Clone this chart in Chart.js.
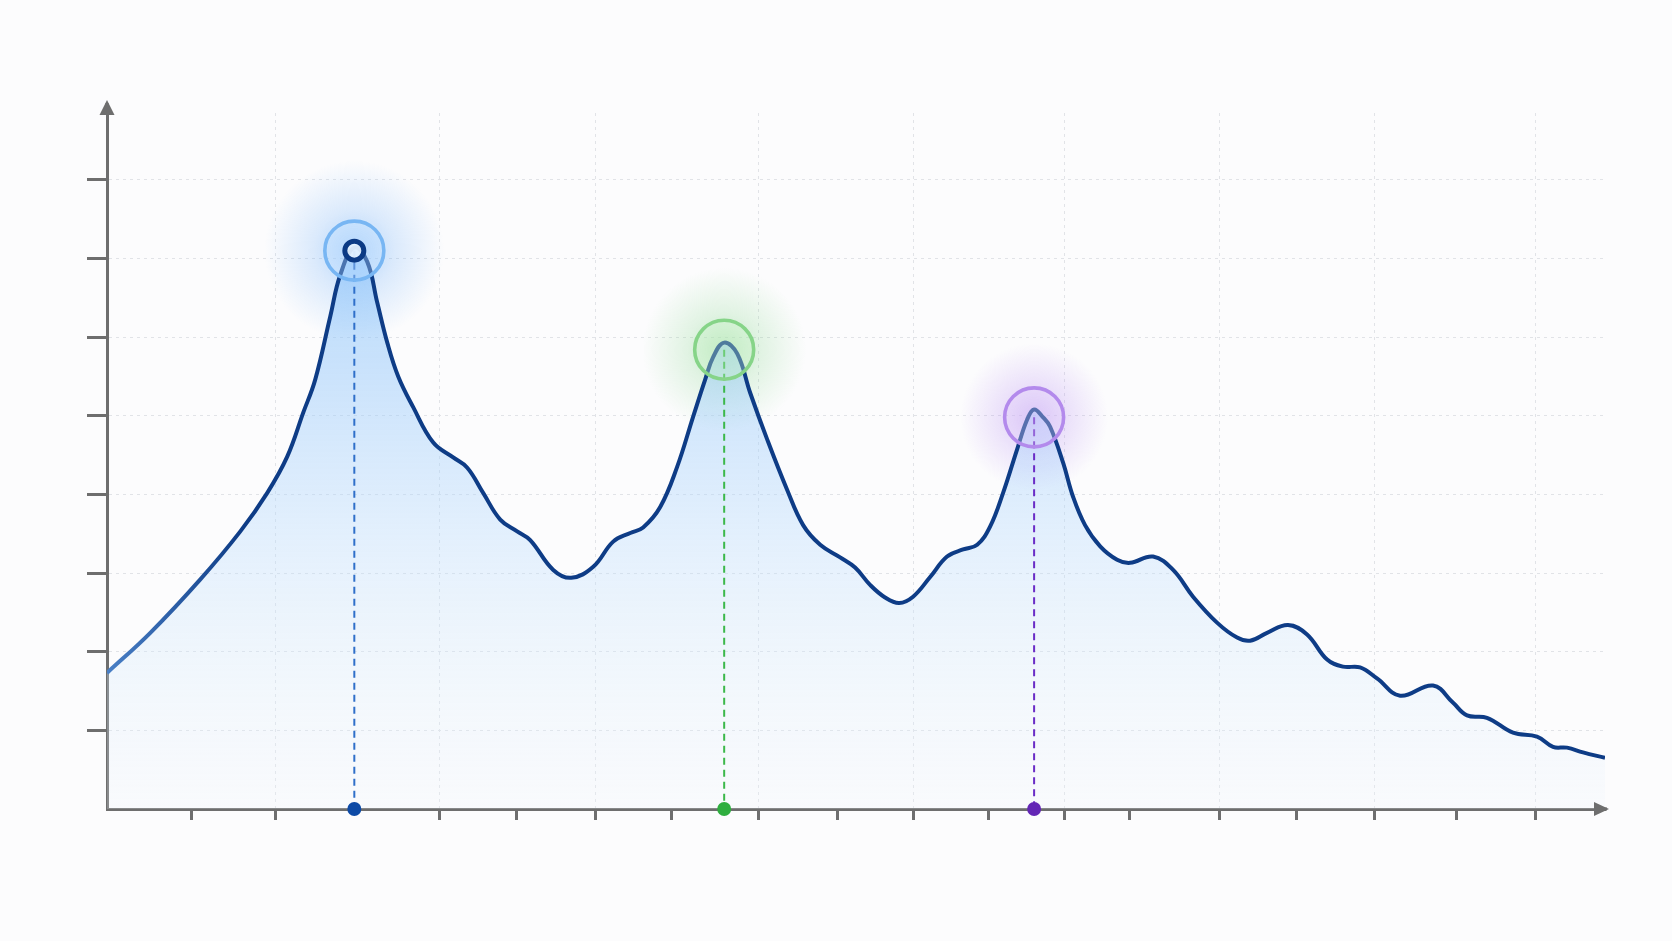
<!DOCTYPE html>
<html>
<head>
  <title>Peak curve</title>
  <script src="https://cdn.jsdelivr.net/npm/chart.js"></script>
  <style>
    body { margin: 0; background: #fcfcfd; }
    #wrap { position: relative; width: 1672px; height: 941px; }
  </style>
</head>
<body>
  <div id="wrap"><canvas id="chart"></canvas></div>
  <script>
    // curve (x runs 0..100, y in axis units)
    const curveX = [0, 2.89, 6.23, 8.90, 10.70, 12.03, 13.10, 13.90, 14.90, 15.57, 16.51, 17.37, 18.04, 18.71, 19.44,
      20.44, 21.78, 23.11, 24.05, 25.11, 26.25, 27.38, 28.25, 29.79, 30.99, 32.46, 33.79, 34.93, 35.79, 36.93,
      38.06, 39.13, 39.93, 40.47, 41.20, 42.07, 42.94, 44.07, 45.40, 46.47, 47.61, 48.94, 49.94, 50.94, 51.94,
      52.88, 53.81, 54.95, 56.08, 57.15, 58.09, 58.95, 59.82, 60.75, 61.42, 61.89, 62.49, 62.96, 63.83, 64.49,
      65.29, 66.30, 67.43, 68.30, 69.83, 71.17, 72.50, 74.10, 75.44, 76.31, 77.44, 78.84, 80.11, 81.45, 82.51,
      83.65, 84.78, 86.32, 88.52, 89.86, 90.79, 92.12, 93.86, 95.46, 96.53, 97.46, 98.53, 100];
    const curveY = [1.73, 2.24, 2.92, 3.53, 4.02, 4.48, 5.04, 5.46, 6.26, 6.79, 7.14, 6.96, 6.44, 5.93, 5.50,
      5.11, 4.66, 4.47, 4.34, 4.02, 3.68, 3.53, 3.42, 3.04, 2.94, 3.08, 3.40, 3.51, 3.58, 3.84,
      4.35, 4.99, 5.46, 5.75, 5.93, 5.79, 5.29, 4.70, 4.06, 3.61, 3.36, 3.20, 3.07, 2.85, 2.69,
      2.62, 2.70, 2.95, 3.21, 3.30, 3.36, 3.59, 4.02, 4.57, 4.95, 5.08, 4.98, 4.86, 4.40, 3.97,
      3.61, 3.34, 3.17, 3.13, 3.21, 3.04, 2.70, 2.37, 2.18, 2.14, 2.24, 2.34, 2.22, 1.90, 1.81,
      1.80, 1.66, 1.44, 1.57, 1.35, 1.19, 1.16, 0.97, 0.92, 0.79, 0.78, 0.72, 0.65];

    const xTicks = [5.63, 11.27, 22.18, 27.32, 32.59, 37.66, 43.5, 48.74, 53.81, 58.82, 63.89, 68.23,
      74.24, 79.38, 84.59, 90.06, 95.33];
    const xGridTicks = [11.27, 22.18, 32.59, 43.5, 53.81, 63.89, 74.24, 84.59, 95.33];
    const yTicks = [1, 2, 3, 4, 5, 6, 7, 8];

    // highlighted peaks: position of the marker
    const peakX = [16.51, 41.20, 61.89];
    const peakY = [7.10, 5.84, 4.98];

    const ringColor = ['#78b6f3', '#86d488', '#b38aec'];
    const ringFill = ['rgba(185,222,255,0.35)', 'rgba(200,240,200,0.35)', 'rgba(225,208,250,0.35)'];
    const dropColor = ['#2f6fc9', '#3cb84a', '#6a2cc6'];
    const dotColor = ['#0d4aa6', '#2fae3f', '#6326b5'];
    const glowColor = ['90,165,250', '120,210,125', '170,120,240'];
    const glowRadius = [90, 82, 74];

    const curve = curveX.map((x, i) => ({ x: x, y: curveY[i] }));

    const datasets = [];
    // axis dots
    datasets.push({
      data: peakX.map(x => ({ x: x, y: 0 })),
      pointRadius: 7, pointBackgroundColor: dotColor, pointBorderWidth: 0,
      showLine: false, clip: false, order: 0
    });
    // inner ring on the first peak
    datasets.push({
      data: [{ x: peakX[0], y: peakY[0] }],
      pointRadius: 9.5, pointBorderWidth: 5, pointBorderColor: '#0b3a85',
      pointBackgroundColor: 'rgba(228,242,255,0.9)',
      showLine: false, clip: false, order: 0
    });
    // outer rings
    datasets.push({
      data: peakX.map((x, i) => ({ x: x, y: peakY[i] })),
      pointRadius: 29.5, pointBorderWidth: 3.6, pointBorderColor: ringColor,
      pointBackgroundColor: ringFill,
      showLine: false, clip: false, order: 1
    });
    // dashed drop lines
    peakX.forEach((x, i) => {
      datasets.push({
        data: [{ x: x, y: peakY[i] }, { x: x, y: 0 }],
        borderColor: dropColor[i], borderWidth: 2, borderDash: [7, 5],
        pointRadius: 0, fill: false, order: 2
      });
    });
    // main curve
    datasets.push({
      data: curve,
      borderWidth: 4,
      tension: 0.4,
      pointRadius: 0,
      fill: 'origin',
      order: 3,
      borderColor: function (context) {
        const area = context.chart.chartArea;
        if (!area) return '#0f3f88';
        const g = context.chart.ctx.createLinearGradient(area.left, 0, area.right, 0);
        g.addColorStop(0, '#4a80c6');
        g.addColorStop(0.09, '#0e3c86');
        g.addColorStop(1, '#0e3c86');
        return g;
      },
      backgroundColor: function (context) {
        const area = context.chart.chartArea;
        if (!area) return 'rgba(180,215,250,0.4)';
        const g = context.chart.ctx.createLinearGradient(0, area.top, 0, area.bottom);
        g.addColorStop(0, 'rgba(120,185,250,0.7)');
        g.addColorStop(0.3, 'rgba(140,195,250,0.52)');
        g.addColorStop(0.65, 'rgba(190,222,252,0.35)');
        g.addColorStop(1, 'rgba(240,247,254,0.2)');
        return g;
      }
    });

    const glowPlugin = {
      id: 'glow',
      beforeDatasetsDraw(chart) {
        const ctx = chart.ctx;
        const xs = chart.scales.x, ys = chart.scales.y;
        ctx.save();
        peakX.forEach((x, i) => {
          const cx = xs.getPixelForValue(x), cy = ys.getPixelForValue(peakY[i]);
          const r = glowRadius[i];
          const g = ctx.createRadialGradient(cx, cy, 0, cx, cy, r);
          g.addColorStop(0, 'rgba(' + glowColor[i] + ',0.45)');
          g.addColorStop(0.45, 'rgba(' + glowColor[i] + ',0.2)');
          g.addColorStop(1, 'rgba(' + glowColor[i] + ',0)');
          ctx.fillStyle = g;
          ctx.beginPath();
          ctx.arc(cx, cy, r, 0, Math.PI * 2);
          ctx.fill();
        });
        ctx.restore();
      }
    };

    const arrowPlugin = {
      id: 'arrows',
      afterDraw(chart) {
        const ctx = chart.ctx;
        const a = chart.chartArea;
        ctx.save();
        ctx.strokeStyle = '#6e6e6e';
        ctx.fillStyle = '#6e6e6e';
        ctx.lineWidth = 3;
        ctx.beginPath();
        ctx.moveTo(a.left, a.top + 2);
        ctx.lineTo(a.left, a.top - 10);
        ctx.moveTo(a.right - 2, a.bottom);
        ctx.lineTo(a.right + 2, a.bottom);
        ctx.stroke();
        ctx.beginPath();
        ctx.moveTo(a.left, a.top - 13);
        ctx.lineTo(a.left - 7.5, a.top + 2);
        ctx.lineTo(a.left + 7.5, a.top + 2);
        ctx.closePath();
        ctx.fill();
        ctx.beginPath();
        ctx.moveTo(a.right + 4, a.bottom);
        ctx.lineTo(a.right - 11, a.bottom - 7);
        ctx.lineTo(a.right - 11, a.bottom + 7);
        ctx.closePath();
        ctx.fill();
        ctx.restore();
      }
    };

    new Chart(document.getElementById('chart'), {
      type: 'line',
      data: { datasets: datasets },
      plugins: [glowPlugin, arrowPlugin],
      options: {
        responsive: true,
        maintainAspectRatio: false,
        animation: false,
        layout: { padding: { left: 87, right: 67, top: 113, bottom: 121 } },
        plugins: { legend: { display: false }, tooltip: { enabled: false } },
        scales: {
          x: {
            type: 'linear', min: 0, max: 100,
            afterBuildTicks: s => { s.ticks = xTicks.map(v => ({ value: v })); },
            afterFit: s => { s.height = 11; },
            ticks: { display: false },
            grid: {
              color: c => (c.tick && xGridTicks.includes(c.tick.value)) ? '#e1e3e7' : 'rgba(0,0,0,0)',
              lineWidth: 1, tickLength: 11, tickWidth: 3, tickColor: '#6e6e6e'
            },
            border: { display: true, color: '#6e6e6e', width: 3, dash: [3, 4] }
          },
          y: {
            min: 0, max: 8.85,
            afterBuildTicks: s => { s.ticks = yTicks.map(v => ({ value: v })); },
            afterFit: s => { s.width = 20; },
            ticks: { display: false },
            grid: {
              color: '#e1e3e7', lineWidth: 1, tickLength: 20, tickWidth: 3, tickColor: '#6e6e6e'
            },
            border: { display: true, color: '#6e6e6e', width: 3, dash: [3, 4] }
          }
        }
      }
    });
  </script>
</body>
</html>
